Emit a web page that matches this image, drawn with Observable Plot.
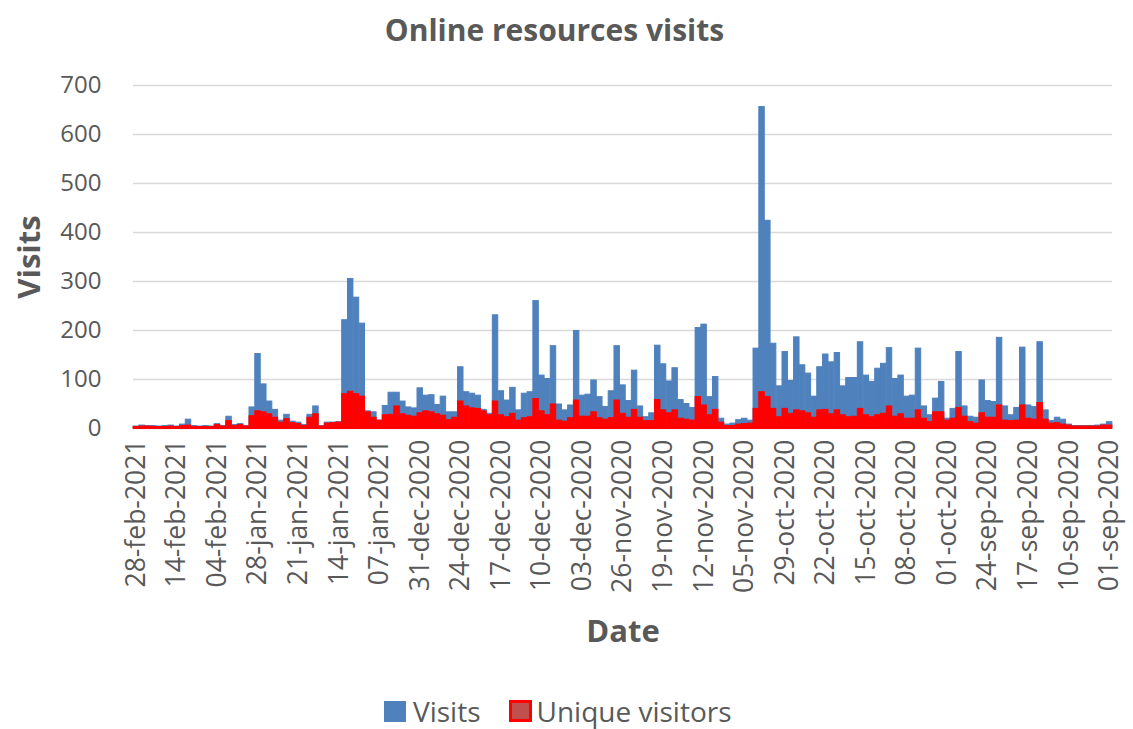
<!DOCTYPE html>
<html>
<head>
<meta charset="utf-8">
<script src="https://cdn.jsdelivr.net/npm/d3@7"></script>
<script src="https://cdn.jsdelivr.net/npm/@observablehq/plot@0.6"></script>
<style>
  html, body { margin: 0; padding: 0; background: #ffffff; }
  #wrap { position: relative; width: 1133px; height: 729px; overflow: hidden; font-family: "Open Sans", sans-serif; color: #595959; }
  #title { position: absolute; left: 0; top: 0; width: 1109px; height: 60px; line-height: 60px; text-align: center; font-weight: bold; font-size: 30px; }
  #chart { position: absolute; left: 0; top: 60px; }
  #legend { position: absolute; top: 699px; left: 384px; height: 24px; display: flex; align-items: center; font-size: 28px; white-space: nowrap; }
  #legend .t { display: inline-block; height: 24px; line-height: 24px; overflow: visible; }
  .sw { display: inline-block; box-sizing: border-box; }
</style>
</head>
<body>
<div id="wrap">
  <div id="title">Online resources visits</div>
  <div id="chart"></div>
  <div id="legend">
    <span class="sw" style="width:22px;height:21px;background:#4f81bd;margin-right:7px"></span><span class="t">Visits</span>
    <span class="sw" style="width:23px;height:22px;background:#c0504d;border:3px solid #ff0000;margin-left:28px;margin-right:5px"></span><span class="t">Unique visitors</span>
  </div>
</div>
<script>
// Categories: one per day shown, left (28-feb-2021) to right (01-sep-2020)
const tickLabels = ["28-feb-2021","14-feb-2021","04-feb-2021","28-jan-2021","21-jan-2021","14-jan-2021","07-jan-2021","31-dec-2020","24-dec-2020","17-dec-2020","10-dec-2020","03-dec-2020","26-nov-2020","19-nov-2020","12-nov-2020","05-nov-2020","29-oct-2020","22-oct-2020","15-oct-2020","08-oct-2020","01-oct-2020","24-sep-2020","17-sep-2020","10-sep-2020","01-sep-2020"];
const labelEvery = 7;

const visits = [
  4,6,5,5,4,5,6,4,8,18,
  5,4,5,4,9,5,24,7,9,5,
  43,152,90,55,38,16,28,14,12,7,
  28,45,5,12,12,13,221,305,267,214,
  35,33,16,46,73,73,55,43,41,82,
  67,68,48,65,33,33,125,74,71,67,
  38,30,231,76,57,83,37,71,74,260,
  108,101,168,49,37,47,199,67,69,98,
  64,44,76,168,88,56,118,45,23,31,
  169,131,96,123,58,50,42,205,212,64,
  105,20,8,10,17,20,16,163,656,424,
  173,86,156,97,186,129,112,65,125,151,
  135,154,86,103,103,176,108,95,122,132,
  164,101,108,65,67,163,45,27,61,95,
  20,40,156,45,24,22,98,56,54,185,
  45,27,42,165,47,44,176,37,15,22,
  18,8,5,5,5,5,6,8,13
];
const uniqueVisitors = [
  3,4,4,3,3,3,4,3,5,6,
  3,3,3,3,7,4,15,5,7,4,
  25,35,33,29,22,12,19,11,9,5,
  22,29,4,10,11,12,70,75,70,65,
  33,22,16,27,28,45,29,26,24,31,
  35,33,29,26,17,22,55,45,41,40,
  35,27,55,27,23,30,16,21,23,60,
  35,27,49,16,14,21,57,24,24,33,
  21,18,21,57,30,22,38,22,15,15,
  58,37,31,37,20,18,16,64,47,27,
  38,12,5,5,8,9,10,40,74,64,
  40,23,40,30,37,35,31,22,37,38,
  29,37,27,23,24,40,27,23,27,30,
  45,24,29,20,20,37,20,13,33,33,
  16,20,42,24,13,10,31,22,22,47,
  16,15,16,47,20,18,52,18,10,11,
  8,6,4,4,4,4,4,6,6
];
const yTicks = [0,100,200,300,400,500,600,700];

const rows = visits.map((v, i) => ({i, visits: v, unique: uniqueVisitors[i]}));
const xTicks = tickLabels.map((_, k) => k * labelEvery);

const textColor = "#595959";
const chart = Plot.plot({
  width: 1133,
  height: 600,
  marginTop: 25,
  marginBottom: 232,
  marginLeft: 133,
  marginRight: 21,
  style: {fontFamily: "Open Sans, sans-serif", color: textColor, background: "#ffffff", overflow: "visible"},
  x: {type: "band", domain: rows.map(d => d.i), paddingInner: 0.06, paddingOuter: 0.02},
  y: {domain: [0, 700]},
  marks: [
    Plot.gridY(yTicks.filter(t => t > 0), {stroke: "#d9d9d9", strokeOpacity: 1, strokeWidth: 1.3}),
    Plot.ruleY([0], {stroke: "#d9d9d9", strokeWidth: 1.3}),
    Plot.barY(rows, {x: "i", y: "visits", fill: "#4f81bd", stroke: "#4f81bd", strokeWidth: 1}),
    Plot.barY(rows, {x: "i", y: "unique", fill: "#ff0000", stroke: "#ff0000", strokeWidth: 1}),
    Plot.ruleY([0], {stroke: "#ff0000", strokeWidth: 2, dy: -0.5}),
    Plot.axisY({ticks: yTicks, tickSize: 0, tickPadding: 32, fontSize: 24, label: null, color: textColor}),
    Plot.axisX({ticks: xTicks, tickFormat: i => tickLabels[i / labelEvery], tickRotate: -90, tickSize: 0, tickPadding: 11, fontSize: 26.5, label: null, color: textColor}),
    Plot.text(["Visits"], {text: d => d, frameAnchor: "left", dx: -103, rotate: -90, textAnchor: "middle", lineAnchor: "middle", fontSize: 31, fontWeight: "bold", fill: textColor}),
    Plot.text(["Date"], {text: d => d, frameAnchor: "bottom", dy: 204, textAnchor: "middle", lineAnchor: "middle", fontSize: 31, fontWeight: "bold", fill: textColor})
  ]
});
document.getElementById("chart").appendChild(chart);
</script>
</body>
</html>
